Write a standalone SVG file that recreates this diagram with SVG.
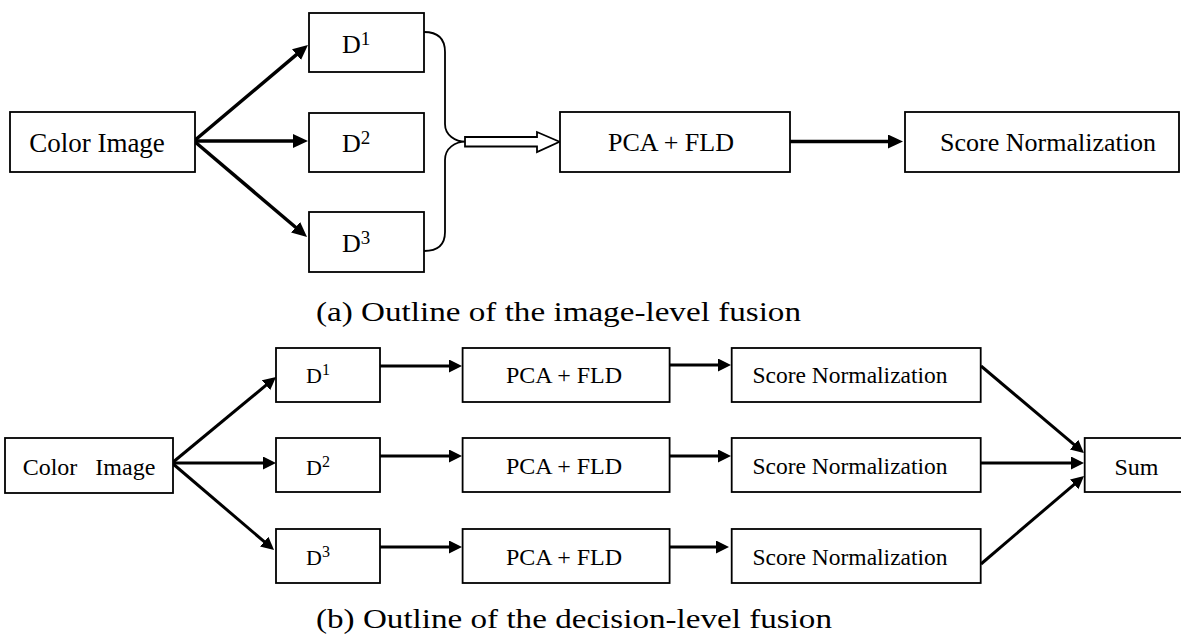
<svg xmlns="http://www.w3.org/2000/svg" width="1181" height="637" viewBox="0 0 1181 637">
<style>
.box{fill:#fff;stroke:#000;stroke-width:1.8}
.t{font-family:"Liberation Serif","Times New Roman",serif;fill:#000}
.c{text-anchor:middle}
.a1{stroke:#000;stroke-width:3.5;fill:none}
.a2{stroke:#000;stroke-width:3;fill:none}
.cap{font-family:"Liberation Serif","Times New Roman",serif;font-size:27px;fill:#000}
</style>
<defs>
<marker id="h1" markerUnits="userSpaceOnUse" markerWidth="16" markerHeight="15" refX="5" refY="7" orient="auto" viewBox="0 0 16 15">
<path d="M0,0 L15,7 L0,14 z" fill="#000"/>
</marker>
<marker id="h2" markerUnits="userSpaceOnUse" markerWidth="14" markerHeight="14" refX="4" refY="6.5" orient="auto" viewBox="0 0 14 14">
<path d="M0,0 L13,6.5 L0,13 z" fill="#000"/>
</marker>
</defs>
<rect width="1181" height="637" fill="#fff"/>

<g id="connectors">
<line class="a1" x1="194" y1="141" x2="300.3" y2="51.4" marker-end="url(#h1)"/>
<line class="a1" x1="194" y1="141" x2="298" y2="141" marker-end="url(#h1)"/>
<line class="a1" x1="194" y1="141" x2="299.4" y2="230.5" marker-end="url(#h1)"/>
<path d="M424,32 C438,32 445,38 445,52 L445,124 C445,135 455,141.7 466,141.7 C455,141.7 445,148 445,160 L445,232 C445,244 438,251 424,251" fill="none" stroke="#000" stroke-width="1.8"/>
<path d="M465,137 L537,137 L537,132 L559.5,141.7 L537,152 L537,146.5 L465,146.5 Z" fill="#fff" stroke="#000" stroke-width="1.8"/>
<line class="a1" x1="790" y1="141.5" x2="893" y2="141.5" marker-end="url(#h1)"/>

<line class="a2" x1="172" y1="463" x2="269.1" y2="382.7" marker-end="url(#h2)"/>
<line class="a2" x1="172" y1="463" x2="267" y2="463" marker-end="url(#h2)"/>
<line class="a2" x1="172" y1="463" x2="267.2" y2="544.2" marker-end="url(#h2)"/>
<line class="a2" x1="379" y1="366" x2="453" y2="366" marker-end="url(#h2)"/>
<line class="a2" x1="379" y1="456" x2="453" y2="456" marker-end="url(#h2)"/>
<line class="a2" x1="379" y1="547" x2="453" y2="547" marker-end="url(#h2)"/>
<line class="a2" x1="669" y1="365" x2="722" y2="365" marker-end="url(#h2)"/>
<line class="a2" x1="669" y1="456" x2="722" y2="456" marker-end="url(#h2)"/>
<line class="a2" x1="669" y1="547" x2="720" y2="547" marker-end="url(#h2)"/>
<line class="a2" x1="981" y1="366" x2="1077.1" y2="447.2" marker-end="url(#h2)"/>
<line class="a2" x1="981" y1="463" x2="1075" y2="463" marker-end="url(#h2)"/>
<line class="a2" x1="981" y1="564" x2="1077.2" y2="481.8" marker-end="url(#h2)"/>
</g>

<g id="a-color">
<rect class="box" x="10" y="112" width="185" height="60"/>
<text class="t c" x="97" y="152" font-size="27">Color Image</text>
</g>
<g id="a-d1">
<rect class="box" x="309" y="13" width="115" height="59"/>
<text class="t" x="342" y="53" font-size="26">D<tspan dy="-8" font-size="19">1</tspan></text>
</g>
<g id="a-d2">
<rect class="box" x="309" y="113" width="115" height="59"/>
<text class="t" x="342" y="152" font-size="26">D<tspan dy="-8" font-size="19">2</tspan></text>
</g>
<g id="a-d3">
<rect class="box" x="309" y="212" width="115" height="60"/>
<text class="t" x="342" y="252" font-size="26">D<tspan dy="-8" font-size="19">3</tspan></text>
</g>
<g id="a-pca">
<rect class="box" x="560" y="112" width="230" height="60"/>
<text class="t c" x="671" y="151" font-size="26">PCA + FLD</text>
</g>
<g id="a-score">
<rect class="box" x="905" y="112" width="274" height="60"/>
<text class="t c" x="1048" y="151" font-size="26">Score Normalization</text>
</g>
<g id="caption-a">
<text class="cap" x="316" y="321" textLength="485" lengthAdjust="spacingAndGlyphs">(a) Outline of the image-level fusion</text>
</g>

<g id="b-color">
<rect class="box" x="5" y="438" width="168" height="55"/>
<text class="t c" x="89" y="475" font-size="24" xml:space="preserve">Color   Image</text>
</g>
<g id="b-d1">
<rect class="box" x="276" y="348" width="104" height="54"/>
<text class="t" x="306" y="383" font-size="22">D<tspan dy="-8" font-size="16">1</tspan></text>
</g>
<g id="b-d2">
<rect class="box" x="276" y="438" width="104" height="54"/>
<text class="t" x="306" y="475" font-size="22">D<tspan dy="-8" font-size="16">2</tspan></text>
</g>
<g id="b-d3">
<rect class="box" x="276" y="529" width="104" height="54"/>
<text class="t" x="306" y="565" font-size="22">D<tspan dy="-8" font-size="16">3</tspan></text>
</g>
<g id="b-pca1">
<rect class="box" x="462.6" y="348" width="207" height="54"/>
<text class="t c" x="564" y="383" font-size="24">PCA + FLD</text>
</g>
<g id="b-pca2">
<rect class="box" x="462.6" y="438" width="207" height="54"/>
<text class="t c" x="564" y="474" font-size="24">PCA + FLD</text>
</g>
<g id="b-pca3">
<rect class="box" x="462.6" y="529" width="207" height="54"/>
<text class="t c" x="564" y="565" font-size="24">PCA + FLD</text>
</g>
<g id="b-score1">
<rect class="box" x="731.7" y="348" width="249" height="54"/>
<text class="t c" x="850" y="383" font-size="23.5">Score Normalization</text>
</g>
<g id="b-score2">
<rect class="box" x="731.7" y="438" width="249" height="54"/>
<text class="t c" x="850" y="474" font-size="23.5">Score Normalization</text>
</g>
<g id="b-score3">
<rect class="box" x="731.7" y="529" width="249" height="54"/>
<text class="t c" x="850" y="565" font-size="23.5">Score Normalization</text>
</g>
<g id="b-sum">
<rect class="box" x="1084.7" y="438" width="100" height="54"/>
<text class="t c" x="1136.5" y="475" font-size="24">Sum</text>
</g>
<g id="caption-b">
<text class="cap" x="316" y="628" textLength="516" lengthAdjust="spacingAndGlyphs">(b) Outline of the decision-level fusion</text>
</g>
</svg>
